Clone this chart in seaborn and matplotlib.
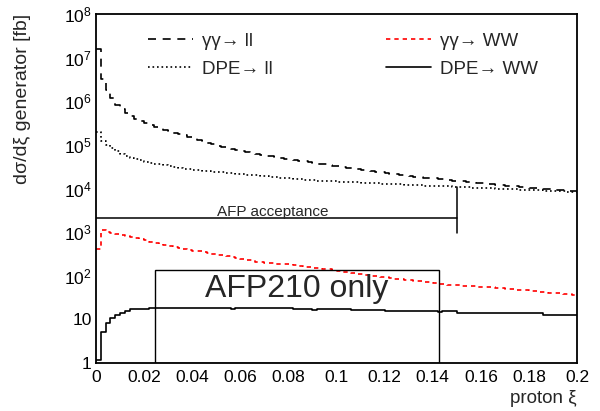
import numpy as np
import pandas as pd
import matplotlib
matplotlib.use("Agg")
import matplotlib.pyplot as plt
from matplotlib.patches import Rectangle
from matplotlib.ticker import FixedLocator, FixedFormatter, MultipleLocator, LogLocator, NullFormatter
import seaborn as sns

# ---------------- data (100 bins of width 0.002 in proton xi) ----------------
bin_edges = [round(0.002 * i, 3) for i in range(101)]

gg_ll = [1.6e7, 3.2e6, 1.8e6, 1.2e6, 8.3e5, 6.6e5, 5.5e5, 4.7e5, 4.0e5, 3.5e5,
         3.2e5, 2.9e5, 2.6e5, 2.4e5, 2.2e5, 2.05e5, 1.9e5, 1.8e5, 1.65e5, 1.5e5,
         1.4e5, 1.3e5, 1.2e5, 1.12e5, 1.03e5, 9.6e4, 9.1e4, 8.5e4, 8.1e4, 7.6e4,
         7.2e4, 6.8e4, 6.5e4, 6.2e4, 5.9e4, 5.7e4, 5.5e4, 5.3e4, 5.0e4, 4.8e4,
         4.7e4, 4.5e4, 4.3e4, 4.2e4, 4.0e4, 3.8e4, 3.7e4, 3.55e4, 3.4e4, 3.3e4,
         3.2e4, 3.1e4, 2.95e4, 2.9e4, 2.75e4, 2.7e4, 2.6e4, 2.5e4, 2.4e4, 2.35e4,
         2.25e4, 2.2e4, 2.15e4, 2.05e4, 2.0e4, 1.9e4, 1.85e4, 1.8e4, 1.78e4, 1.74e4,
         1.7e4, 1.66e4, 1.62e4, 1.58e4, 1.52e4, 1.48e4, 1.45e4, 1.41e4, 1.38e4, 1.35e4,
         1.32e4, 1.29e4, 1.26e4, 1.23e4, 1.2e4, 1.17e4, 1.15e4, 1.12e4, 1.1e4, 1.07e4,
         1.05e4, 1.02e4, 1.0e4, 9.8e3, 9.6e3, 9.4e3, 9.2e3, 9.0e3, 8.8e3, 8.6e3]

dpe_ll = [2.0e5, 1.25e5, 1.0e5, 8.3e4, 7.2e4, 6.3e4, 5.6e4, 5.1e4, 4.7e4, 4.4e4,
          4.1e4, 3.9e4, 3.7e4, 3.55e4, 3.4e4, 3.25e4, 3.1e4, 2.95e4, 2.8e4, 2.75e4,
          2.7e4, 2.6e4, 2.55e4, 2.5e4, 2.45e4, 2.4e4, 2.35e4, 2.3e4, 2.25e4, 2.2e4,
          2.15e4, 2.05e4, 2.0e4, 2.0e4, 1.95e4, 1.9e4, 1.87e4, 1.83e4, 1.78e4, 1.74e4,
          1.7e4, 1.67e4, 1.63e4, 1.6e4, 1.58e4, 1.55e4, 1.52e4, 1.5e4, 1.48e4, 1.46e4,
          1.44e4, 1.42e4, 1.41e4, 1.39e4, 1.38e4, 1.36e4, 1.35e4, 1.33e4, 1.32e4, 1.3e4,
          1.29e4, 1.27e4, 1.26e4, 1.24e4, 1.23e4, 1.21e4, 1.2e4, 1.18e4, 1.17e4, 1.16e4,
          1.15e4, 1.14e4, 1.13e4, 1.12e4, 1.1e4, 1.09e4, 1.08e4, 1.07e4, 1.05e4, 1.04e4,
          1.03e4, 1.02e4, 1.0e4, 9.9e3, 9.8e3, 9.7e3, 9.6e3, 9.5e3, 9.4e3, 9.3e3,
          9.2e3, 9.1e3, 9.0e3, 8.9e3, 8.8e3, 8.7e3, 8.7e3, 8.6e3, 8.5e3, 8.5e3]

gg_ww = [400, 1100, 1000, 950, 900, 850, 800, 760, 720, 690,
         650, 590, 560, 530, 500, 480, 460, 440, 410, 390,
         375, 360, 345, 330, 315, 305, 300, 285, 270, 255,
         245, 235, 225, 210, 205, 200, 195, 190, 188, 186,
         185, 175, 168, 160, 155, 152, 148, 144, 140, 132,
         128, 124, 120, 116, 112, 108, 104, 101, 98, 95,
         92, 89, 86, 83, 80, 78, 76, 74, 72, 70,
         68, 66, 64, 62, 61, 60, 59, 58, 57, 56,
         55, 55, 54, 53, 51, 50, 49, 48, 47, 46,
         45, 44, 43, 42, 41, 40, 39.5, 39, 38, 37]

dpe_ww = [1.2, 5.2, 8.1, 10.6, 12.6, 14.2, 15.5, 17.3, 17.3, 17.3,
          17.3, 18.3, 18.3, 18.3, 18.3, 18.3, 18.3, 18.3, 18.3, 18.3,
          18.3, 18.3, 18.3, 18.3, 18.3, 18.3, 18.3, 18.3, 17.5, 18.0,
          18.0, 18.0, 18.0, 18.0, 18.0, 18.0, 18.0, 18.0, 18.0, 18.0,
          18.0, 17.3, 17.3, 17.3, 17.3, 16.8, 17.0, 17.0, 17.0, 17.0,
          17.0, 17.0, 17.0, 16.4, 16.4, 16.4, 16.4, 16.4, 16.4, 16.4,
          15.8, 15.8, 15.8, 15.8, 15.8, 15.8, 15.8, 15.8, 15.8, 15.8,
          15.8, 15.0, 15.3, 15.3, 15.3, 14.2, 14.2, 14.2, 14.2, 14.2,
          14.2, 14.2, 14.2, 13.8, 14.2, 14.2, 14.2, 14.2, 14.2, 14.2,
          14.2, 14.2, 14.2, 12.5, 12.5, 12.5, 12.5, 12.5, 12.5, 12.5]

series_names = ["γγ→ ll", "DPE→ ll", "γγ→ WW", "DPE→ WW"]

# annotation values
afp_accept_level = 2150
afp_accept_xmax = 0.15
afp_accept_vert = (960, 1.1e4)
afp210_box = (0.0245, 0.1425, 1.0, 135.0)

x_ticks = [0, 0.02, 0.04, 0.06, 0.08, 0.1, 0.12, 0.14, 0.16, 0.18, 0.2]
x_tick_labels = ["0", "0.02", "0.04", "0.06", "0.08", "0.1", "0.12", "0.14", "0.16", "0.18", "0.2"]
y_ticks = [1, 10, 1e2, 1e3, 1e4, 1e5, 1e6, 1e7, 1e8]
y_tick_labels = ["1", "10", "$10^{2}$", "$10^{3}$", "$10^{4}$", "$10^{5}$", "$10^{6}$", "$10^{7}$", "$10^{8}$"]

# ---------------- style ----------------
sns.set_theme(style="white")
plt.rcParams["font.family"] = ["Liberation Sans", "DejaVu Sans"]
plt.rcParams["mathtext.fontset"] = "custom"
plt.rcParams["mathtext.rm"] = "Liberation Sans"
plt.rcParams["mathtext.it"] = "Liberation Sans:italic"
plt.rcParams["mathtext.bf"] = "Liberation Sans:bold"

fig = plt.figure(figsize=(6.0, 4.11), dpi=100)
ax = fig.add_axes([0.16, 0.1168, 0.8017, 0.8492])

centers = [(bin_edges[i] + bin_edges[i + 1]) / 2 for i in range(100)]
df = pd.DataFrame({"xi": centers, "gg_ll": gg_ll, "dpe_ll": dpe_ll,
                   "gg_ww": gg_ww, "dpe_ww": dpe_ww})

lw = 1.2
styles = {
    "gg_ll": dict(color="black", dashes=(4.8, 4.0)),
    "dpe_ll": dict(color="black", dashes=(1.0, 1.7)),
    "gg_ww": dict(color="#ff0000", dashes=(2.6, 2.4)),
    "dpe_ww": dict(color="black"),
}
handles = []
for key, name in zip(["gg_ll", "dpe_ll", "gg_ww", "dpe_ww"], series_names):
    sns.histplot(data=df, x="xi", weights=key, bins=bin_edges, element="step",
                 fill=False, ax=ax, linewidth=lw, **styles[key])
    h, = ax.plot([], [], linewidth=lw, label=name, **styles[key])
    handles.append(h)

ax.set_yscale("log")
ax.set_xlim(0, 0.2)
ax.set_ylim(1, 1e8)

# AFP acceptance marker
ax.plot([0, afp_accept_xmax], [afp_accept_level, afp_accept_level], color="black", lw=1.1)
ax.plot([afp_accept_xmax, afp_accept_xmax], list(afp_accept_vert), color="black", lw=1.1)
ax.text(0.0736, 2900, "AFP acceptance", fontsize=11, ha="center", va="center")

# AFP210 only box
x0, x1, y0, y1 = afp210_box
ax.add_patch(Rectangle((x0, y0), x1 - x0, y1 - y0, fill=False, edgecolor="black", lw=1.0, zorder=5))
ax.text((x0 + x1) / 2, 50, "AFP210 only", fontsize=23, ha="center", va="center")

# axes formatting (ROOT-like)
ax.xaxis.set_major_locator(FixedLocator(x_ticks))
ax.xaxis.set_major_formatter(FixedFormatter(x_tick_labels))
ax.xaxis.set_minor_locator(MultipleLocator(0.005))
ax.yaxis.set_major_locator(FixedLocator(y_ticks))
ax.yaxis.set_major_formatter(FixedFormatter(y_tick_labels))
ax.yaxis.set_minor_locator(LogLocator(base=10, subs=np.arange(2, 10), numticks=20))
ax.yaxis.set_minor_formatter(NullFormatter())
ax.tick_params(axis="both", which="major", direction="in", length=8, width=1.0,
               labelsize=12.5, top=False, right=False, colors="black")
ax.tick_params(axis="both", which="minor", direction="in", length=4.5, width=1.0,
               top=False, right=False)
ax.tick_params(axis="x", pad=5)
ax.tick_params(axis="y", pad=3)
for s in ax.spines.values():
    s.set_linewidth(1.3)
    s.set_color("black")

ax.set_xlabel("proton ξ", fontsize=13.5, loc="right", labelpad=4)
ax.set_ylabel("dσ/dξ generator [fb]", fontsize=14, loc="top", labelpad=24)

leg = ax.legend(handles=handles, ncol=2, loc="upper left", frameon=False,
                bbox_to_anchor=(0.073, 0.995), fontsize=13.5, handlelength=2.4,
                handletextpad=0.5, columnspacing=6.0, labelspacing=0.58)

fig.savefig("out.png", dpi=100)
